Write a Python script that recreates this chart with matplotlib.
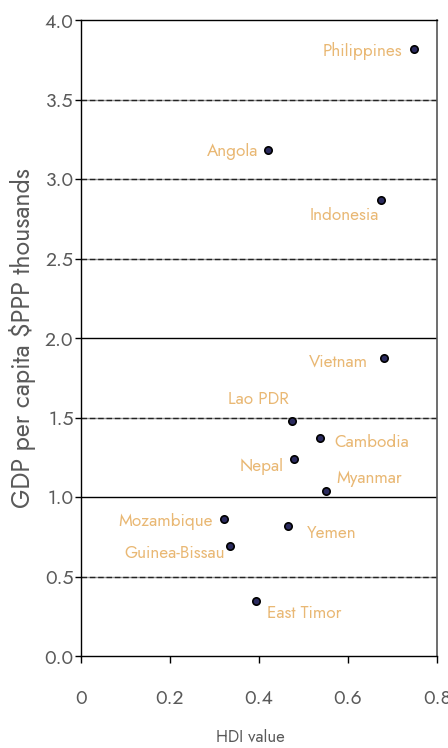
import matplotlib
matplotlib.use("Agg")
import matplotlib.pyplot as plt

countries = ["Philippines", "Angola", "Indonesia", "Vietnam", "Lao PDR", "Cambodia",
             "Nepal", "Myanmar", "Mozambique", "Yemen", "Guinea-Bissau", "East Timor"]
hdi = [0.748, 0.420, 0.674, 0.681, 0.474, 0.537, 0.479, 0.551, 0.321, 0.465, 0.335, 0.393]
gdp = [3.82, 3.18, 2.87, 1.874, 1.478, 1.371, 1.239, 1.038, 0.862, 0.818, 0.692, 0.346]
x_ticks = [0, 0.2, 0.4, 0.6, 0.8]
x_ticklabels = ["0", "0.2", "0.4", "0.6", "0.8"]
y_ticks = [0.0, 0.5, 1.0, 1.5, 2.0, 2.5, 3.0, 3.5, 4.0]

# label placement (pixel offsets, alignment)
offsets = {
    "Philippines": (-12, -2, "right", "center"),
    "Angola": (-10, -1, "right", "center"),
    "Indonesia": (-2, -16, "right", "center"),
    "Vietnam": (-16, -4, "right", "center"),
    "Lao PDR": (-34, 21, "center", "center"),
    "Cambodia": (14, -4, "left", "center"),
    "Nepal": (-11, -8, "right", "center"),
    "Myanmar": (10, 12, "left", "center"),
    "Mozambique": (-11, -3, "right", "center"),
    "Yemen": (19, -8, "left", "center"),
    "Guinea-Bissau": (-5, -8, "right", "center"),
    "East Timor": (11, -13, "left", "center"),
}

plt.rcParams["font.family"] = ["Jost", "DejaVu Sans"]

fig = plt.figure(figsize=(4.48, 7.48), dpi=100)
ax = fig.add_axes([81/448, 1-656/748, 356/448, 636/748])
ax.set_xlim(0, 0.8)
ax.set_ylim(0, 4.0)

for y in y_ticks[1:-1]:
    if y in (1.0, 2.0):
        ax.axhline(y, color="black", lw=1.0, zorder=1)
    else:
        ax.axhline(y, color="#999999", lw=1.0, zorder=1)
        ax.axhline(y, color="#222222", lw=1.0, ls=(0, (4, 2)), zorder=1)

ax.scatter(hdi, gdp, s=28, facecolor="#2b2b5e", edgecolor="black", linewidth=1.2, zorder=3)

label_color = "#e9b874"
for c, xv, yv in zip(countries, hdi, gdp):
    dx, dy, ha, va = offsets[c]
    ax.annotate(c, (xv, yv), xytext=(dx, dy), textcoords="offset pixels",
                ha=ha, va=va, color=label_color, fontsize=12.3)

ax.set_xticks(x_ticks)
ax.set_xticklabels(x_ticklabels)
ax.set_yticks(y_ticks)
ax.set_yticklabels([f"{v:.1f}" for v in y_ticks])
ax.tick_params(axis="x", direction="out", length=5, width=1, pad=19, labelsize=14, labelcolor="#5a5a5a")
ax.tick_params(axis="y", direction="out", length=4.5, width=1, pad=0.8, labelsize=14, labelcolor="#5a5a5a")

for s in ["left", "bottom", "top"]:
    ax.spines[s].set_color("black")
    ax.spines[s].set_linewidth(1.0)
ax.spines["right"].set_color("#555555")
ax.spines["right"].set_linewidth(1.2)

ax.set_ylabel("GDP per capita $PPP thousands", fontsize=18, color="#5a5a5a", labelpad=6)
fig.text(250/448, 1-737/748, "HDI value", ha="center", va="center", fontsize=12, color="#5a5a5a")

fig.savefig("out.png", dpi=100)
